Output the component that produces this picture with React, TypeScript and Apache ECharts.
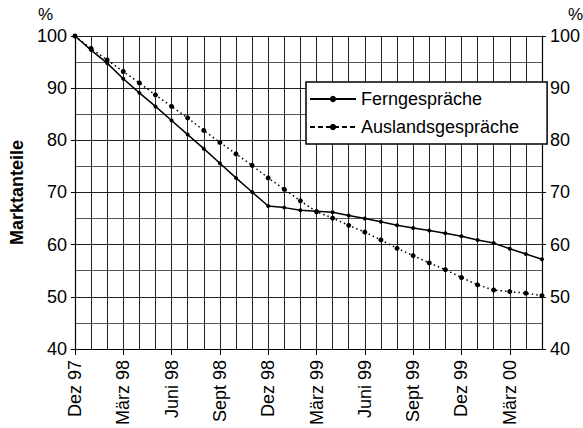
import React, { useEffect, useRef } from "react";
import * as echarts from "echarts";

const months = [
  "Dez 97", "Jan 98", "Feb 98", "März 98", "Apr 98", "Mai 98", "Juni 98", "Juli 98", "Aug 98", "Sept 98", "Okt 98", "Nov 98",
  "Dez 98", "Jan 99", "Feb 99", "März 99", "Apr 99", "Mai 99", "Juni 99", "Juli 99", "Aug 99", "Sept 99", "Okt 99", "Nov 99",
  "Dez 99", "Jan 00", "Feb 00", "März 00", "Apr 00", "Mai 00",
];

const fern = [
  100, 97.3, 94.8, 91.8, 89.1, 86.5, 83.8, 81.1, 78.4, 75.6, 72.8, 70.1,
  67.4, 67.1, 66.6, 66.4, 66.2, 65.6, 65.0, 64.4, 63.7, 63.2, 62.7, 62.2,
  61.6, 60.9, 60.3, 59.2, 58.2, 57.2,
];

const ausland = [
  100, 97.6, 95.4, 93.2, 91.0, 88.7, 86.5, 84.3, 81.9, 79.6, 77.4, 75.2,
  72.8, 70.6, 68.4, 66.3, 65.1, 63.7, 62.4, 60.9, 59.3, 57.9, 56.5, 55.2,
  53.7, 52.3, 51.3, 51.0, 50.7, 50.2,
];

const seriesNames = ["Ferngespräche", "Auslandsgespräche"];
const yMin = 40;
const yMax = 100;
const yStep = 10;

const FONT = "Liberation Sans, Arial, Helvetica, sans-serif";

export default function App() {
  const ref = useRef<HTMLDivElement>(null);
  useEffect(() => {
    if (!ref.current) return;
    const chart = echarts.init(ref.current, undefined, { renderer: "svg" });
    const yAxisBase = {
      type: "value" as const,
      min: yMin,
      max: yMax,
      interval: yStep,
      axisLine: { show: true, lineStyle: { color: "#000", width: 1.2 } },
      axisTick: { show: true, length: 4, lineStyle: { color: "#000" } },
      axisLabel: { fontSize: 18, color: "#000", fontFamily: FONT, margin: 8 },
    };
    chart.setOption({
      animation: false,
      backgroundColor: "#fff",
      textStyle: { fontFamily: FONT, color: "#000" },
      grid: { left: 65, right: 29, top: 36, bottom: 77, containLabel: false },
      legend: {
        orient: "vertical",
        left: 306,
        top: 82,
        backgroundColor: "#fff",
        borderColor: "#000",
        borderWidth: 1.5,
        borderRadius: 0,
        padding: [8, 28, 8, 3],
        itemWidth: 46,
        itemHeight: 8,
        itemGap: 10,
        textStyle: { fontSize: 18, color: "#000", fontFamily: FONT },
        data: [
          { name: seriesNames[0] },
          { name: seriesNames[1], lineStyle: { type: [5, 3] } },
        ],
      },
      xAxis: {
        type: "category",
        boundaryGap: false,
        data: months,
        axisLine: { show: true, lineStyle: { color: "#000", width: 1.2 } },
        axisTick: { show: true, interval: 2, length: 6, lineStyle: { color: "#000" } },
        axisLabel: {
          interval: 2,
          rotate: 90,
          margin: 11,
          fontSize: 18,
          color: "#000",
          fontFamily: FONT,
        },
        splitLine: { show: true, interval: 0, lineStyle: { color: "#222", width: 1 } },
      },
      yAxis: [
        {
          ...yAxisBase,
          position: "left",
          name: "Marktanteile",
          nameLocation: "middle",
          nameRotate: 90,
          nameGap: 40,
          nameTextStyle: { fontSize: 18, fontWeight: "bold", color: "#000", fontFamily: FONT },
          splitLine: { show: true, lineStyle: { color: "#222", width: 1 } },
          minorTick: { show: false, splitNumber: 2 },
          minorSplitLine: { show: true, lineStyle: { color: "#555", width: 1 } },
        },
        {
          ...yAxisBase,
          position: "right",
          splitLine: { show: false },
        },
      ],
      graphic: [
        {
          type: "text",
          left: 38,
          top: 6,
          style: { text: "%", fontSize: 17, fill: "#000", fontFamily: FONT },
        },
        {
          type: "text",
          left: 568,
          top: 6,
          style: { text: "%", fontSize: 17, fill: "#000", fontFamily: FONT },
        },
      ],
      series: [
        {
          name: seriesNames[0],
          type: "line",
          data: fern,
          symbol: "circle",
          symbolSize: 4,
          lineStyle: { color: "#000", width: 1.5, type: "solid" },
          itemStyle: { color: "#000" },
          z: 3,
        },
        {
          name: seriesNames[1],
          type: "line",
          data: ausland,
          symbol: "circle",
          symbolSize: 5,
          lineStyle: { color: "#000", width: 1.5, type: [1.5, 3] },
          itemStyle: { color: "#000" },
          z: 3,
        },
      ],
    });
    return () => chart.dispose();
  }, []);
  return (
    <div
      ref={ref}
      style={{ position: "absolute", left: 0, top: 0, width: 583, height: 428 }}
    />
  );
}
